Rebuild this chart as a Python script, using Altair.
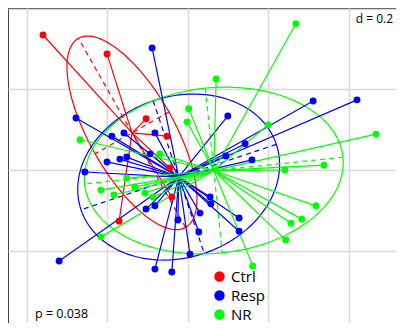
import altair as alt
import numpy as np
import pandas as pd

groups = ["Ctrl", "Resp", "NR"]
colors = ["#ff0000", "#0000ff", "#00ff00"]

ctrl_x = [-0.360, -0.201, -0.104, -0.052, -0.040, -0.171, -0.045]
ctrl_y = [0.335, 0.288, 0.127, 0.084, -0.067, -0.127, 0.005]

resp_x = [-0.089, -0.278, -0.189, -0.159, -0.082, -0.094, -0.201, -0.169, -0.152, -0.256,
          0.099, 0.311, 0.420, 0.142, 0.159, 0.094, -0.104, -0.082, -0.025, 0.005,
          -0.082, -0.040, -0.320, 0.030, 0.027, 0.055, 0.057, 0.127, 0.127]
resp_y = [0.303, 0.129, 0.084, 0.092, 0.092, 0.040, 0.020, 0.027, 0.032, -0.005,
          0.134, 0.171, 0.174, 0.065, 0.025, 0.035, -0.097, -0.089, -0.124, -0.209,
          -0.246, -0.253, -0.226, -0.107, -0.154, -0.067, -0.084, -0.119, -0.152]

nr_x = [0.268, 0.070, 0.002, -0.002, -0.268, -0.070, 0.199, 0.467, 0.338, 0.241, 0.318,
        0.283, 0.256, 0.243, 0.161, -0.152, -0.216, -0.184, -0.132, -0.107, -0.087, -0.216]
nr_y = [0.363, 0.226, 0.152, 0.119, 0.075, 0.040, 0.112, 0.089, 0.012, 0.000, -0.089,
        -0.122, -0.132, -0.174, -0.238, -0.020, -0.050, -0.062, -0.042, -0.057, -0.067, -0.166]

grid_values = [-0.4, -0.2, 0.0, 0.2, 0.4]
d_label = "d = 0.2"
p_label = "p = 0.038"

rows = []
for g, xs, ys in zip(groups, [ctrl_x, resp_x, nr_x], [ctrl_y, resp_y, nr_y]):
    for x, y in zip(xs, ys):
        rows.append({"group": g, "x": x, "y": y})
df = pd.DataFrame(rows)

cent = df.groupby("group")[["x", "y"]].mean()
star = df.copy()
star["xc"] = star["group"].map(cent["x"])
star["yc"] = star["group"].map(cent["y"])

ell_rows, axis_rows = [], []
t = np.linspace(0, 2 * np.pi, 145)
for g in groups:
    sub = df[df.group == g]
    mx, my = sub.x.mean(), sub.y.mean()
    cov = np.cov(sub.x, sub.y, bias=True)
    vals, vecs = np.linalg.eigh(cov)
    a = 1.5 * np.sqrt(vals)
    for i, tt in enumerate(t):
        p = vecs @ (a * np.array([np.cos(tt), np.sin(tt)]))
        ell_rows.append({"group": g, "x": mx + p[0], "y": my + p[1], "o": i})
    for k in range(2):
        v = vecs[:, k] * a[k]
        axis_rows.append({"group": g, "x": mx - v[0], "y": my - v[1],
                          "x2": mx + v[0], "y2": my + v[1]})
ell = pd.DataFrame(ell_rows)
axes_df = pd.DataFrame(axis_rows)

xscale = alt.Scale(domain=[-0.447, 0.5466], nice=False, zero=False)
yscale = alt.Scale(domain=[-0.417, 0.402], nice=False, zero=False)
cscale = alt.Scale(domain=groups, range=colors)

xaxis = alt.Axis(values=grid_values, grid=True, labels=False, ticks=False, domain=False,
                 title=None, gridColor="#d9d9d9", gridWidth=1.5)
yaxis = alt.Axis(values=grid_values, grid=True, labels=False, ticks=False, domain=False,
                 title=None, gridColor="#d9d9d9", gridWidth=1.5)

base_x = alt.X("x:Q", scale=xscale, axis=xaxis)
base_y = alt.Y("y:Q", scale=yscale, axis=yaxis)

legend = alt.Legend(title=None, orient="none", legendX=204, legendY=261,
                    labelFontSize=15, labelFont="Open Sans",
                    symbolSize=80, symbolType="circle",
                    rowPadding=3, labelColor="black", labelOffset=4)
color = alt.Color("group:N", scale=cscale, legend=legend)

stars = alt.Chart(star).mark_rule(strokeWidth=1.2).encode(
    x=base_x, y=base_y, x2="xc:Q", y2="yc:Q", color=color,
)

ellipses = alt.Chart(ell).mark_line(strokeWidth=1.2).encode(
    x=base_x, y=base_y, color=color, detail="group:N", order="o:Q",
)

ell_axes = alt.Chart(axes_df).mark_rule(strokeWidth=1.2, strokeDash=[5, 4]).encode(
    x=base_x, y=base_y, x2="x2:Q", y2="y2:Q", color=color,
)

points = alt.Chart(df).mark_circle(size=48, opacity=1).encode(
    x=base_x, y=base_y, color=color,
)

d_text = alt.Chart(pd.DataFrame({"t": [d_label]})).mark_text(
    align="right", baseline="middle", fontSize=12, font="Open Sans", color="black"
).encode(x=alt.value(385), y=alt.value(11), text="t:N")

p_text = alt.Chart(pd.DataFrame({"t": [p_label]})).mark_text(
    align="left", baseline="middle", fontSize=12.5, font="Open Sans", color="black"
).encode(x=alt.value(27), y=alt.value(306), text="t:N")

chart = alt.layer(ellipses, ell_axes, stars, points, d_text, p_text).properties(
    width=400, height=330,
    padding={"left": 0, "top": 0, "right": -12, "bottom": -15},
    autosize=alt.AutoSizeParams(type="none"),
    background="white",
).configure_view(stroke="#444444", strokeWidth=2)

chart.save("out.html", embed_options={"renderer": "svg", "actions": False})
